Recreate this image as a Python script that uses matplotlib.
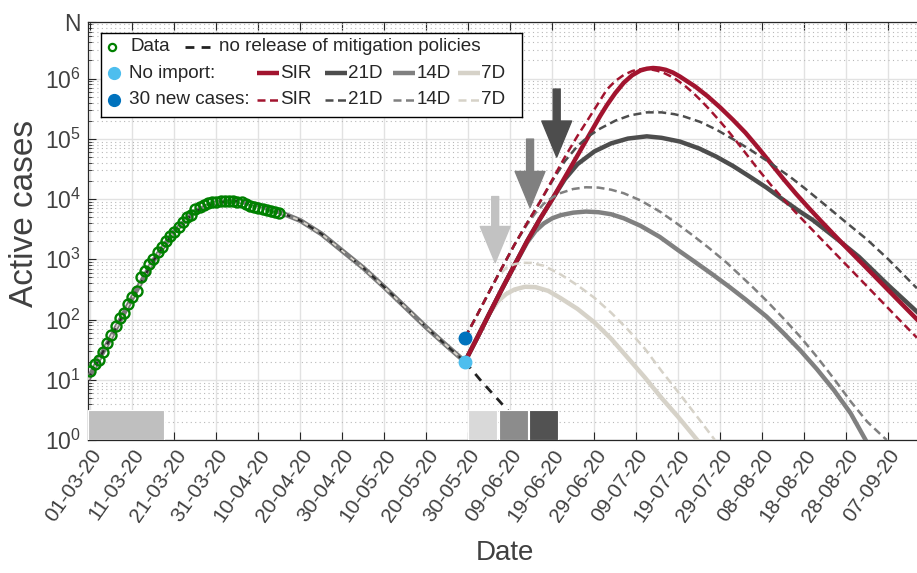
import numpy as np
import pandas as pd
import matplotlib
matplotlib.use('Agg')
import matplotlib.pyplot as plt
import matplotlib.dates as mdates
from matplotlib.ticker import FixedLocator, LogLocator, NullFormatter

plt.rcParams['font.family'] = ['Liberation Sans', 'DejaVu Sans']
plt.rcParams['mathtext.fontset'] = 'custom'
plt.rcParams['mathtext.rm'] = 'Liberation Sans'
plt.rcParams['mathtext.it'] = 'Liberation Sans:italic'

start = pd.Timestamp('2020-03-01')
N = 8.7e6

tick_labels = ['01-03-20', '11-03-20', '21-03-20', '31-03-20', '10-04-20', '20-04-20',
               '30-04-20', '10-05-20', '20-05-20', '30-05-20', '09-06-20', '19-06-20',
               '29-06-20', '09-07-20', '19-07-20', '29-07-20', '08-08-20', '18-08-20',
               '28-08-20', '07-09-20']

# observed active cases (days since 01-03-20)
data_days = np.arange(46)
data_vals = [14, 18, 21, 29, 41, 55, 78, 105, 130, 182,
             240, 302, 500, 650, 840, 1000, 1340, 1620, 2050, 2400,
             2800, 3500, 4100, 5000, 5500, 6800, 7500, 8100, 8600, 8900,
             9100, 9300, 9400, 9400, 9300, 9100, 8800, 8400, 7800, 7400,
             7100, 6800, 6600, 6300, 6100, 5900]

# model fit up to release
fit_days = [-0.5, 0, 5, 10, 15, 20, 25, 30, 35, 40, 45, 50, 55, 60, 65, 70, 75, 80, 85, 89.2]
fit_vals = [10, 12, 52, 230, 950, 2900, 6300, 8800, 9300, 8000, 6100, 4400, 2650, 1380,
            720, 345, 160, 74, 36, 20]

# no release of mitigation policies
norel_days = [89.2, 93.2, 97.5, 101, 105]
norel_vals = [20, 9.3, 4.35, 2.3, 1.0]

# common rise after release
rise_days = [89.2, 92, 95, 98, 101, 104, 107, 110]
solid_rise = [20, 48, 125, 320, 800, 2000, 4600, 10000]
dash_rise = [50, 115, 290, 720, 1750, 4000, 8800, 21000]

# no import
sir_days = [113, 116, 118.6, 121.4, 123, 125, 127, 129, 131, 132.5, 134, 135.5, 137, 138.7,
            140.4, 142, 144, 147, 150, 153, 156, 159, 162, 165, 168, 171, 174, 177, 180, 184,
            188, 192, 196.8]
sir_vals = [23e3, 53e3, 110e3, 240e3, 363e3, 575e3, 851e3, 1.135e6, 1.365e6, 1.46e6, 1.5e6,
            1.47e6, 1.4e6, 1.26e6, 1.08e6, 912e3, 741e3, 507e3, 330e3, 207e3, 126e3, 71.3e3,
            39.4e3, 21.7e3, 12.3e3, 7200, 4290, 2590, 1570, 820, 426, 221, 101]
d21_days = [110, 113, 116, 120, 124, 128, 132.5, 136, 140.4, 145, 149, 153, 157, 161, 165,
            168.5, 172, 177.7, 183, 190, 196.8]
d21_vals = [10000, 21400, 38000, 61700, 84000, 101000, 110000, 104000, 90000, 69000, 50800,
            35500, 23600, 15500, 9700, 6500, 4500, 2200, 1100, 370, 135]
d14_days = [104, 106, 108, 110, 112, 115, 118, 121, 124, 127, 131, 135.6, 140, 144, 148, 152,
            156, 161, 165, 169, 173, 177, 181, 184.6]
d14_vals = [1900, 2950, 3950, 4800, 5400, 5950, 6200, 6050, 5600, 4800, 3600, 2350, 1410, 900,
            570, 355, 216, 112, 60, 31, 15, 6.8, 2.8, 1.0]
d7_days = [97, 99, 101, 103.5, 106, 109, 112, 116, 120, 124, 128, 132, 136, 140, 144.5]
d7_vals = [200, 265, 315, 350, 345, 300, 226, 150, 90, 48, 23, 11, 5.0, 2.4, 1.0]

# 30 new cases
sirn_days = [113, 116, 118.6, 121.4, 123, 125, 127, 129, 130.5, 131.8, 133.5, 135, 136.5, 138,
             139.6, 141.5, 143.5, 145.5, 147.5, 149.5, 151.5, 153.5, 156, 159, 162, 165, 168,
             171, 174, 178, 183, 188, 192, 196.8]
sirn_vals = [50e3, 112e3, 215e3, 437e3, 661e3, 912e3, 1.148e6, 1.334e6, 1.419e6, 1.452e6,
             1.419e6, 1.349e6, 1.245e6, 1.109e6, 955e3, 767e3, 582e3, 426e3, 303e3, 211e3,
             145e3, 97.5e3, 58.1e3, 31.2e3, 17.3e3, 9980, 5940, 3590, 2180, 1125, 491, 214, 110,
             50]
d21n_days = [110, 113, 116, 118.6, 121.4, 125, 128.5, 132.5, 136, 139, 141.2, 145.2, 149, 153,
             157.1, 161, 166.6, 170, 175, 180, 184.9, 190, 196.8]
d21n_vals = [20000, 42700, 75900, 110000, 148000, 200000, 245000, 275000, 275000, 257000,
             237000, 191000, 143000, 98900, 66100, 43700, 23400, 15300, 7940, 4070, 2140, 1000,
             331]
d14n_days = [104, 106, 108, 110, 112, 115, 118, 121, 124, 127, 131, 135.6, 139.6, 143.6, 147.5,
             151.5, 155, 158, 161, 165, 169, 173, 177, 181, 185, 189.6]
d14n_vals = [3800, 5900, 8400, 10600, 12600, 14700, 15700, 15500, 14300, 12500, 9500, 6200,
             3950, 2450, 1500, 880, 520, 330, 205, 105, 52, 24, 10.5, 4.4, 2.0, 1.0]
d7n_days = [97, 99, 101, 103, 105, 108, 112, 116, 120, 124, 128, 132, 136, 140, 144, 148.7]
d7n_vals = [520, 720, 830, 875, 870, 780, 560, 370, 230, 130, 68, 33, 14, 6.2, 2.7, 1.0]

# lockdown and release phases (start day, length)
box_days = [(-0.6, 18.1), (89.9, 6.9), (97.2, 6.9), (104.4, 6.9)]
box_top = 3.16
box_colors = ['#bfbfbf', '#d9d9d9', '#8c8c8c', '#525252']

# arrows marking the end of each phase
arrow_days = [96.4, 104.7, 111.05]
arrow_tip = [881, 7220, 49700]
arrow_top = [11000, 98900, 670000]
arrow_colors = ['#c2c2c2', '#808080', '#4d4d4d']

c_sir = '#A2142F'
c21 = '#4d4d4d'
c14 = '#808080'
c7 = '#d6d2c8'


def X(days):
    return mdates.date2num(start) + np.asarray(days, dtype=float)


fig = plt.figure(figsize=(9.17, 5.73), dpi=100)
ax = fig.add_axes([88 / 917, 1 - 440 / 573, 829 / 917, 418 / 573])
ax.set_yscale('log')

for (d0, w), col in zip(box_days, box_colors):
    ax.bar(X(d0), box_top - 1, width=w, bottom=1, align='edge', color=col,
           edgecolor='white', linewidth=0.8, zorder=4)

# fitted curve, all scenarios overlap here
ax.plot(X(fit_days), fit_vals, color='#7a7a7a', lw=3.6, zorder=3, solid_capstyle='butt')
ax.plot(X(fit_days), fit_vals, color='#2a2a2a', lw=1.6, zorder=3, dashes=(3, 3))
ax.plot(X(fit_days), fit_vals, color='#d8d4cc', lw=1.4, zorder=3, dashes=(2.5, 3.5))
ax.plot(X(norel_days), norel_vals, color='#222222', lw=2.0, dashes=(3.2, 2.6), zorder=3)

rd = list(rise_days)


def series(k, days, vals, rise):
    return X(rd[:k] + list(days)), list(rise[:k]) + list(vals)


solid_series = [(series(3, d7_days, d7_vals, solid_rise), c7),
                (series(5, d14_days, d14_vals, solid_rise), c14),
                (series(7, d21_days, d21_vals, solid_rise), c21),
                (series(8, sir_days, sir_vals, solid_rise), c_sir)]
dash_series = [(series(3, d7n_days, d7n_vals, dash_rise), c7),
               (series(5, d14n_days, d14n_vals, dash_rise), c14),
               (series(7, d21n_days, d21n_vals, dash_rise), c21),
               (series(8, sirn_days, sirn_vals, dash_rise), c_sir)]

for (xs, ys), col in solid_series:
    ax.plot(xs, ys, color=col, lw=3.2, zorder=5, solid_joinstyle='round')
for (xs, ys), col in dash_series:
    ax.plot(xs, ys, color=col, lw=1.8, dashes=(3.2, 1.8), zorder=5)

# observed data
ax.plot(X(data_days), data_vals, 'o', mfc='none', mec='#008000', mew=1.7, ms=7.2, zorder=6)

# release points
ax.plot(X([89.2]), [20], 'o', color='#4DBEEE', ms=9, zorder=7)
ax.plot(X([89.2]), [50], 'o', color='#0072BD', ms=9, zorder=7)

for d, tip, top, col in zip(arrow_days, arrow_tip, arrow_top, arrow_colors):
    ax.annotate('', xy=(X(d), tip), xytext=(X(d), top),
                arrowprops=dict(width=5, headwidth=21.5, headlength=26, color=col, shrink=0),
                zorder=8)

ax.set_xlim(X(-0.55), X(-0.55) + 829 / 4.2)
ax.set_ylim(1, N)
tick_pos = mdates.date2num(pd.to_datetime(tick_labels, format='%d-%m-%y'))
ax.xaxis.set_major_locator(FixedLocator(tick_pos))
ax.set_xticklabels(tick_labels, rotation=55, ha='right', va='top', rotation_mode='anchor',
                   fontsize=15, color='#404040')
yt = [1, 10, 100, 1e3, 1e4, 1e5, 1e6, N]
ax.yaxis.set_major_locator(FixedLocator(yt))
ax.set_yticklabels([r'$10^{%d}$' % k for k in range(7)] + ['N'], fontsize=16.5, color='#404040')
ax.yaxis.set_minor_locator(LogLocator(base=10, subs=np.arange(2, 10), numticks=20))
ax.yaxis.set_minor_formatter(NullFormatter())
ax.tick_params(which='both', direction='in', top=True, right=False, color='#262626')
ax.tick_params(which='major', length=6, width=0.8)
ax.tick_params(which='minor', length=3, width=0.6)
ax.tick_params(axis='y', pad=5)
ax.tick_params(axis='x', pad=4)
ax.grid(which='major', color='#e2e2e2', lw=1.0, zorder=0)
ax.grid(which='minor', axis='y', color='#b8b8b8', lw=0.8, linestyle=(0, (1, 3)), zorder=0)
ax.set_axisbelow(True)
for s in ['left', 'top', 'bottom']:
    ax.spines[s].set_color('#262626')
    ax.spines[s].set_linewidth(0.9)
ax.spines['right'].set_visible(False)

fig.text(25 / 917, 1 - 213 / 573, 'Active cases', rotation=90, ha='center', va='center',
         fontsize=24, color='#404040')
fig.text(505 / 917, 1 - 553 / 573, 'Date', ha='center', va='center', fontsize=20,
         color='#404040')

# legend drawn in pixel units
lx0, lx1, ly0, ly1 = 100.7, 521.7, 32.7, 116.7
lg = fig.add_axes([lx0 / 917, 1 - ly1 / 573, (lx1 - lx0) / 917, (ly1 - ly0) / 573])
lg.set_xlim(lx0, lx1)
lg.set_ylim(ly1, ly0)
lg.set_xticks([])
lg.set_yticks([])
for s in lg.spines.values():
    s.set_color('black')
    s.set_linewidth(1.0)
fs = 13.6
r1, r2, r3 = 46.7, 73.3, 100
lg.plot([112], [r1], 'o', mfc='none', mec='#008000', mew=1.6, ms=5.2)
lg.text(131, r1, 'Data', va='center', fontsize=fs, color='#262626')
lg.plot([185, 215], [r1, r1], color='#222222', lw=2.0, dashes=(3.2, 2.6))
lg.text(219, r1, 'no release of mitigation policies', va='center', fontsize=fs, color='#262626')
lg.plot([114], [r2], 'o', color='#4DBEEE', ms=8.5)
lg.text(129, r2, 'No import:', va='center', fontsize=fs, color='#262626')
lg.plot([114], [r3], 'o', color='#0072BD', ms=8.5)
lg.text(129, r3, '30 new cases:', va='center', fontsize=fs, color='#262626')
samples = [(256.7, c_sir, 'SIR'), (325, c21, '21D'), (393.3, c14, '14D'), (458.3, c7, '7D')]
for x0, col, name in samples:
    lg.plot([x0, x0 + 22], [r2, r2], color=col, lw=3.2, solid_capstyle='butt')
    lg.text(x0 + 23, r2, name, va='center', fontsize=fs, color='#262626')
    lg.plot([x0, x0 + 22], [r3, r3], color=col, lw=1.8, dashes=(3.2, 1.8))
    lg.text(x0 + 23, r3, name, va='center', fontsize=fs, color='#262626')

fig.savefig('out.png', dpi=100)
